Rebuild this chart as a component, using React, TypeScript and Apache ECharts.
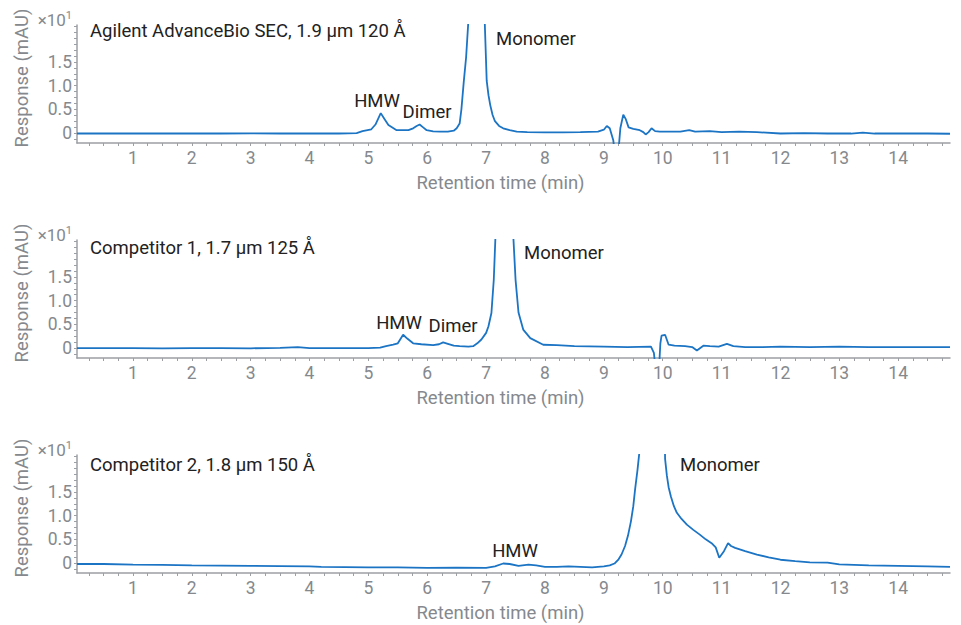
import React, { useEffect, useRef } from "react";
import * as echarts from "echarts";

// ---- Data (response in units of ×10 mAU) ----
const agilentTime = [0.05, 0.5, 1.0, 1.5, 2.0, 2.5, 3.0, 3.5, 4.0, 4.5, 4.8, 4.9, 5.05, 5.12, 5.21, 5.27, 5.34, 5.48, 5.58, 5.68, 5.76, 5.82, 5.87, 5.93, 5.99, 6.1, 6.22, 6.35, 6.45, 6.5, 6.55, 6.58, 6.62, 6.66, 6.70, 6.76, 6.84, 6.92, 6.975, 7.01, 7.04, 7.07, 7.11, 7.15, 7.22, 7.29, 7.4, 7.52, 7.7, 8.0, 8.3, 8.6, 8.9, 9.0, 9.05, 9.1, 9.16, 9.2, 9.24, 9.28, 9.33, 9.37, 9.42, 9.5, 9.61, 9.67, 9.71, 9.76, 9.81, 9.87, 9.95, 10.1, 10.3, 10.45, 10.55, 10.8, 11.0, 11.3, 11.6, 12.0, 12.4, 12.8, 13.2, 13.4, 13.6, 14.0, 14.5, 14.88];
const agilentResp = [-0.01, -0.01, -0.01, -0.01, -0.01, -0.01, -0.005, -0.01, -0.01, -0.01, 0.0, 0.04, 0.08, 0.18, 0.42, 0.3, 0.17, 0.06, 0.06, 0.06, 0.1, 0.15, 0.18, 0.12, 0.06, 0.035, 0.03, 0.03, 0.05, 0.1, 0.2, 0.5, 1.08, 1.6, 2.4, 15, 60, 15, 2.4, 1.1, 0.8, 0.59, 0.38, 0.25, 0.15, 0.1, 0.06, 0.03, 0.02, 0.015, 0.015, 0.02, 0.03, 0.07, 0.15, 0.1, -0.15, -0.6, -0.5, 0.1, 0.39, 0.3, 0.12, 0.09, 0.06, 0.02, -0.03, 0.02, 0.1, 0.04, 0.03, 0.03, 0.03, 0.06, 0.03, 0.04, 0.02, 0.03, 0.02, -0.01, 0, -0.01, -0.01, 0.01, -0.01, -0.01, -0.01, -0.015];

const comp1Time = [0.05, 0.5, 1, 1.5, 2, 2.5, 3, 3.5, 3.8, 4.0, 4.5, 5.0, 5.2, 5.3, 5.42, 5.5, 5.59, 5.66, 5.76, 5.9, 6.1, 6.2, 6.27, 6.35, 6.45, 6.55, 6.7, 6.78, 6.85, 6.92, 7.0, 7.04, 7.09, 7.13, 7.16, 7.22, 7.3, 7.39, 7.46, 7.5, 7.55, 7.63, 7.75, 7.97, 8.2, 8.5, 9.0, 9.4, 9.8, 9.85, 9.89, 9.93, 9.96, 9.98, 10.04, 10.1, 10.2, 10.38, 10.5, 10.58, 10.69, 10.8, 10.95, 11.09, 11.2, 11.4, 11.7, 12.0, 12.5, 13.0, 13.5, 14.0, 14.88];
const comp1Resp = [0, 0, 0, -0.005, 0, 0, -0.005, 0.005, 0.02, 0, 0, 0, 0.01, 0.04, 0.07, 0.1, 0.28, 0.2, 0.1, 0.08, 0.06, 0.08, 0.12, 0.09, 0.05, 0.04, 0.03, 0.04, 0.1, 0.18, 0.32, 0.46, 0.74, 1.44, 2.4, 15, 60, 15, 2.4, 1.44, 0.75, 0.39, 0.21, 0.07, 0.06, 0.04, 0.03, 0.02, 0.03, -0.1, -0.6, -0.6, 0.1, 0.26, 0.28, 0.07, 0.05, 0.04, 0.02, -0.05, 0.05, 0.04, 0.03, 0.09, 0.04, 0.02, 0.02, 0.03, 0.02, 0.03, 0.02, 0.02, 0.02];

const comp2Time = [0.05, 0.5, 1.0, 1.5, 2.0, 2.5, 3.0, 3.5, 4.0, 4.2, 5.0, 5.5, 6.0, 6.5, 7.0, 7.15, 7.29, 7.4, 7.55, 7.72, 7.85, 8.0, 8.2, 8.4, 8.6, 8.8, 9.0, 9.1, 9.18, 9.25, 9.3, 9.36, 9.41, 9.46, 9.5, 9.53, 9.57, 9.6, 9.65, 9.72, 9.82, 9.92, 10.0, 10.04, 10.07, 10.1, 10.14, 10.19, 10.24, 10.32, 10.41, 10.52, 10.63, 10.73, 10.83, 10.9, 10.96, 11.04, 11.11, 11.16, 11.23, 11.4, 11.6, 11.8, 12.0, 12.25, 12.5, 12.8, 13.0, 13.5, 14.0, 14.5, 14.88];
const comp2Resp = [-0.02, -0.02, -0.035, -0.04, -0.05, -0.055, -0.06, -0.065, -0.07, -0.08, -0.09, -0.09, -0.1, -0.095, -0.1, -0.07, -0.01, -0.02, -0.06, -0.035, -0.05, -0.08, -0.08, -0.07, -0.08, -0.09, -0.07, -0.05, -0.01, 0.08, 0.18, 0.36, 0.58, 0.88, 1.2, 1.55, 1.95, 2.3, 5, 15, 40, 15, 6, 2.2, 1.85, 1.6, 1.4, 1.2, 1.06, 0.93, 0.81, 0.7, 0.6, 0.5, 0.42, 0.33, 0.11, 0.25, 0.42, 0.36, 0.32, 0.25, 0.18, 0.12, 0.07, 0.04, 0.015, 0.01, -0.03, -0.05, -0.06, -0.07, -0.08];

const panelTitles = ["Agilent AdvanceBio SEC, 1.9 µm 120 Å", "Competitor 1, 1.7 µm 125 Å", "Competitor 2, 1.8 µm 150 Å"];
const timeTickLabels = [1, 2, 3, 4, 5, 6, 7, 8, 9, 10, 11, 12, 13, 14];
const responseTickLabels = [0, 0.5, 1.0, 1.5];
const xTitle = "Retention time (min)";
const yTitle = "Response (mAU)";

const LINE = "#1c74c4";
const GRAY = "#85898e";
const AXIS = "#9c9fa3";
const FONT = "Roboto";

const series = [
  { t: agilentTime, r: agilentResp },
  { t: comp1Time, r: comp1Resp },
  { t: comp2Time, r: comp2Resp },
];

const annotations = [
  [{ text: "HMW", x: 377, y: 101 }, { text: "Dimer", x: 427, y: 112 }, { text: "Monomer", x: 536, y: 39 }],
  [{ text: "HMW", x: 399, y: 323 }, { text: "Dimer", x: 453, y: 326 }, { text: "Monomer", x: 564, y: 253 }],
  [{ text: "HMW", x: 515, y: 551 }, { text: "Monomer", x: 720, y: 465 }],
];

const GRID_TOPS = [25, 240, 455];
const GRID_H = 118;

export default function App() {
  const ref = useRef<HTMLDivElement>(null);
  useEffect(() => {
    if (!ref.current) return;
    const chart = echarts.init(ref.current, null, { renderer: "svg" });
    const xTickVals: number[] = [];
    for (let v = 0.25; v <= 14.8; v += 0.25) xTickVals.push(Math.round(v * 100) / 100);
    const yTickVals: number[] = [];
    for (let v = -0.125; v <= 2.26; v += 0.125) yTickVals.push(Math.round(v * 1000) / 1000);

    const grids = GRID_TOPS.map((top) => ({ left: 77, right: 11, top, height: GRID_H }));
    const xAxes = GRID_TOPS.map((_, i) => ({
      type: "value",
      gridIndex: i,
      min: 0.05,
      max: 14.88,
      name: xTitle,
      nameLocation: "middle",
      nameGap: 30,
      nameTextStyle: { color: GRAY, fontSize: 18.5, fontFamily: FONT, padding: [0, 26, 0, 0] },
      axisLine: { show: true, onZero: false, lineStyle: { color: AXIS, width: 1.5 } },
      axisTick: { show: true, length: 3, customValues: xTickVals, lineStyle: { color: AXIS } },
      axisLabel: { customValues: timeTickLabels, color: GRAY, fontSize: 17.5, fontFamily: FONT, margin: 6 },
      splitLine: { show: false },
    }));
    const yAxes = GRID_TOPS.map((_, i) => ({
      type: "value",
      gridIndex: i,
      min: -0.21,
      max: 2.28,
      name: yTitle,
      nameLocation: "middle",
      nameGap: 46,
      nameTextStyle: { color: GRAY, fontSize: 18.5, fontFamily: FONT, padding: [0, 0, 0, 12] },
      axisLine: { show: true, onZero: false, lineStyle: { color: AXIS, width: 1.5 } },
      axisTick: { show: true, length: 3, customValues: yTickVals, lineStyle: { color: AXIS } },
      axisLabel: {
        customValues: responseTickLabels,
        color: GRAY,
        fontSize: 17.5,
        fontFamily: FONT,
        margin: 5,
        formatter: (v: number) => (v === 0 ? "0" : v.toFixed(1)),
      },
      splitLine: { show: false },
    }));
    const lineSeries = series.map((s, i) => ({
      type: "line",
      xAxisIndex: i,
      yAxisIndex: i,
      data: s.t.map((t, k) => [t, s.r[k]]),
      showSymbol: false,
      symbol: "none",
      clip: true,
      lineStyle: { color: LINE, width: 1.8 },
    }));

    const graphics: any[] = [];
    GRID_TOPS.forEach((top, i) => {
      graphics.push({
        type: "text",
        x: 72,
        y: top - 5,
        style: {
          text: "×10{s|1}",
          fill: GRAY,
          font: `17px ${FONT}`,
          align: "right",
          verticalAlign: "middle",
          rich: { s: { fontSize: 11, fill: GRAY, fontFamily: FONT, verticalAlign: "top", padding: [0, 0, 10, 0] } },
        },
      });
      graphics.push({
        type: "text",
        x: 90,
        y: top + 6 + (i === 0 ? 0 : i === 1 ? 1.5 : 4),
        style: { text: panelTitles[i], fill: "#222", font: `18.5px ${FONT}`, align: "left", verticalAlign: "middle" },
      });
      annotations[i].forEach((a) => {
        graphics.push({
          type: "text",
          x: a.x,
          y: a.y,
          style: { text: a.text, fill: "#222", font: `18.5px ${FONT}`, align: "center", verticalAlign: "middle" },
        });
      });
    });

    chart.setOption({
      animation: false,
      backgroundColor: "#fff",
      grid: grids,
      xAxis: xAxes,
      yAxis: yAxes,
      series: lineSeries,
      graphic: graphics,
    });
    return () => chart.dispose();
  }, []);
  return <div ref={ref} style={{ position: "fixed", left: 0, top: 0, width: 961, height: 625, background: "#fff" }} />;
}
